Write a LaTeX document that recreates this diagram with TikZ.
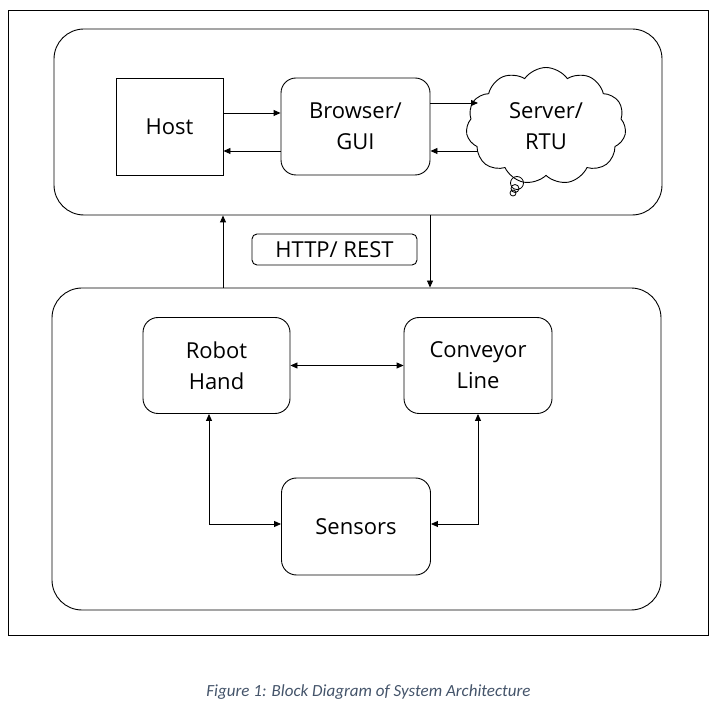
\documentclass[tikz,border=0pt]{standalone}
\usepackage{fontspec}
\setmainfont{Open Sans}
\newfontfamily\capfont{Carlito}
\usepackage{xcolor}
\usepackage{tikz}
\usetikzlibrary{arrows.meta,shapes.symbols,positioning}
\definecolor{captionblue}{RGB}{68, 84, 106}

\begin{document}
\begin{tikzpicture}[x=1pt, y=-1pt,
    every node/.style={font=\fontsize{22}{31}\selectfont, align=center},
    box/.style={draw, line width=0.9pt, inner sep=0pt},
    rbox/.style={box, rounded corners=15pt},
    panel/.style={draw, line width=0.9pt, rounded corners=30pt, inner sep=0pt},
    arr/.style={line width=0.9pt, -{Triangle[length=7pt,width=6pt]}},
    biarr/.style={line width=0.9pt, {Triangle[length=7pt,width=6pt]}-{Triangle[length=7pt,width=6pt]}}]
    \useasboundingbox (0,0) rectangle (721,711);
    % outer frame
    \draw[line width=0.9pt] (8,10) rectangle (708,635);

    % top panel: host, browser and server
    \node[panel, minimum width=608pt, minimum height=186pt] (top) at (358,122) {};
    \node[box, minimum width=107pt, minimum height=97pt] (host) at (169.5,126.5) {Host};
    \node[rbox, minimum width=149pt, minimum height=97pt] (gui) at (355.5,126.5) {Browser/\\GUI};
    \node[draw, line width=0.9pt, cloud, cloud puffs=11, cloud puff arc=110, aspect=1.4,
          minimum width=160pt, minimum height=117pt] (server) at (546,126) {Server/\\RTU};
    \draw[line width=0.8pt] (517,183) circle (6.5pt) (515,188.5) circle (4pt) (513,193) circle (3pt);

    \coordinate (hg1) at (0,113);
    \coordinate (hg2) at (0,151);
    \coordinate (srvin) at (478,103);
    \coordinate (srvout) at (478,151);
    \draw[arr] (host.east |- hg1) -- (gui.west |- hg1);
    \draw[arr] (gui.west |- hg2) -- (host.east |- hg2);
    \draw[arr] (gui.east |- srvin) -- (srvin);
    \draw[arr] (srvout) -- (gui.east |- srvout);

    % link between the panels
    \node[panel, minimum width=609pt, minimum height=322pt] (bottom) at (356.5,449) {};
    \node[box, rounded corners=5pt, minimum width=165pt, minimum height=31pt] (http) at (334.5,249.5) {HTTP/ REST};
    \coordinate (up) at (223,0);
    \coordinate (down) at (430,0);
    \draw[arr] (bottom.north -| up) -- (top.south -| up);
    \draw[arr] (top.south -| down) -- (bottom.north -| down);

    % bottom panel: robot, conveyor and sensors
    \node[rbox, minimum width=147pt, minimum height=96pt] (robot) at (216.5,365.5) {Robot\\Hand};
    \node[rbox, minimum width=148pt, minimum height=96pt] (conveyor) at (478,365.5) {Conveyor\\Line};
    \node[rbox, minimum width=149pt, minimum height=97pt] (sensors) at (356,526.5) {Sensors};
    \coordinate (rs) at (209,524);
    \draw[biarr] (robot.east) -- (conveyor.west);
    \draw[biarr] (robot.south -| rs) |- (sensors.west |- rs);
    \draw[biarr] (conveyor.south) |- (sensors.east |- rs);

    % caption
    \node[font=\capfont\itshape\fontsize{17}{20}\selectfont, text=captionblue] (caption) at (368.5,692) {Figure 1: Block Diagram of System Architecture};
\end{tikzpicture}
\end{document}
